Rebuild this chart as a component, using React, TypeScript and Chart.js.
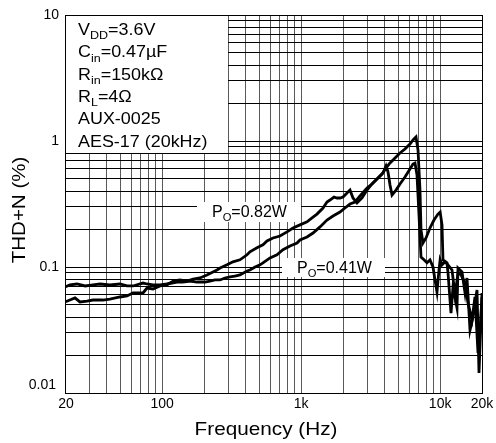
import React, { useEffect, useRef } from 'react';
import { Chart, registerables } from 'chart.js';
Chart.register(...registerables);

// P_O = 0.82 W curve
const freq082 = [20, 21.7, 23.6, 25.6, 28.8, 31.8, 37.5, 42.1, 49.7, 55.9, 61.7, 72.8, 77.8, 85.9, 96.5, 108, 120, 134, 151, 167, 187, 210, 232, 248, 261, 293, 323, 363, 408, 428, 481, 531, 568, 627, 704, 791, 874, 981, 1102, 1217, 1300, 1436, 1534, 1612, 1723, 1811, 1903, 2000, 2137, 2246, 2360, 2522, 2740, 2977, 3233, 3512, 3815, 4078, 4358, 4735, 5140, 5584, 6066, 6378, 6702, 6930, 7160, 7280, 7527, 7910, 8450, 9030, 9650, 10000, 10310, 10480, 11200, 11390, 11970, 12370, 13220, 13440, 14360, 15100, 15600, 16400, 17230, 18410, 19030, 20000];
const thd082 = [0.0528, 0.0547, 0.0568, 0.0528, 0.0537, 0.0547, 0.0547, 0.0557, 0.0578, 0.0589, 0.0622, 0.0622, 0.0681, 0.0669, 0.0707, 0.072, 0.0774, 0.0789, 0.0774, 0.0803, 0.0818, 0.0865, 0.0913, 0.0947, 0.0982, 0.104, 0.11, 0.114, 0.125, 0.132, 0.142, 0.15, 0.161, 0.17, 0.176, 0.19, 0.204, 0.216, 0.228, 0.249, 0.263, 0.294, 0.328, 0.34, 0.359, 0.353, 0.353, 0.359, 0.387, 0.408, 0.353, 0.322, 0.353, 0.408, 0.456, 0.499, 0.547, 0.61, 0.669, 0.733, 0.803, 0.864, 0.947, 1.018, 1.076, 0.848, 0.408, 0.197, 0.155, 0.17, 0.204, 0.236, 0.263, 0.273, 0.216, 0.114, 0.108, 0.0896, 0.0431, 0.0694, 0.0473, 0.0982, 0.0913, 0.0622, 0.0818, 0.0316, 0.0401, 0.0657, 0.0144, 0.0622];

// P_O = 0.41 W curve
const freq041 = [20, 21.7, 24.4, 27.9, 31.8, 35.7, 42.1, 49.7, 55.9, 61.7, 72.8, 77.8, 85.9, 96.5, 108, 128, 141, 159, 178, 203, 221, 240, 261, 283, 308, 334, 363, 408, 428, 466, 506, 531, 597, 670, 740, 831, 934, 981, 1102, 1217, 1366, 1534, 1695, 1903, 2066, 2246, 2440, 2650, 2977, 3233, 3512, 3880, 4078, 4215, 4358, 4504, 4812, 5140, 5584, 6066, 6378, 6592, 6814, 7043, 7280, 7652, 8040, 8450, 8882, 9180, 9490, 9810, 10000, 10310, 10840, 11390, 12170, 12800, 13440, 14120, 15100, 15860, 16950, 17800, 18720, 19370, 20000];
const thd041 = [0.0694, 0.072, 0.0733, 0.0707, 0.072, 0.0733, 0.072, 0.0733, 0.0707, 0.0707, 0.0746, 0.0733, 0.072, 0.072, 0.0733, 0.076, 0.076, 0.0774, 0.076, 0.076, 0.0774, 0.0789, 0.0789, 0.0818, 0.0833, 0.0848, 0.0865, 0.0929, 0.0947, 0.1, 0.104, 0.108, 0.118, 0.125, 0.137, 0.147, 0.155, 0.164, 0.173, 0.186, 0.208, 0.236, 0.254, 0.273, 0.294, 0.316, 0.328, 0.366, 0.424, 0.456, 0.499, 0.557, 0.633, 0.568, 0.447, 0.373, 0.408, 0.456, 0.518, 0.599, 0.657, 0.669, 0.537, 0.259, 0.12, 0.114, 0.108, 0.114, 0.1, 0.0789, 0.0633, 0.0947, 0.114, 0.104, 0.11, 0.104, 0.0947, 0.0599, 0.0896, 0.0865, 0.0746, 0.0518, 0.038, 0.0578, 0.0208, 0.0316, 0.0578];

const xTickValues = [20, 100, 1000, 10000, 20000];
const xTickLabels = ['20', '100', '1k', '10k', '20k'];
const yTickValues = [0.01, 0.1, 1, 10];
const yTickLabels = ['0.01', '0.1', '1', '10'];
const xTitle = 'Frequency (Hz)';
const yTitle = 'THD+N (%)';

type Seg = { t: string; sub?: boolean };
const infoLines: Seg[][] = [
  [{ t: 'V' }, { t: 'DD', sub: true }, { t: '=3.6V' }],
  [{ t: 'C' }, { t: 'in', sub: true }, { t: '=0.47\u00B5F' }],
  [{ t: 'R' }, { t: 'in', sub: true }, { t: '=150k\u03A9' }],
  [{ t: 'R' }, { t: 'L', sub: true }, { t: '=4\u03A9' }],
  [{ t: 'AUX-0025' }],
  [{ t: 'AES-17 (20kHz)' }],
];
const label082: Seg[] = [{ t: 'P' }, { t: 'O', sub: true }, { t: '=0.82W' }];
const label041: Seg[] = [{ t: 'P' }, { t: 'O', sub: true }, { t: '=0.41W' }];

const FONT = '"Liberation Sans", Arial, Helvetica, sans-serif';

function logGrid(e0: number, e1: number, lo: number, hi: number) {
  const out: number[] = [];
  for (let e = e0; e <= e1; e++) {
    for (let m = 1; m <= 9; m++) {
      const v = m * Math.pow(10, e);
      if (v >= lo * 0.999 && v <= hi * 1.001) out.push(v);
    }
  }
  return out;
}
const xGrid = logGrid(1, 4, 20, 20000);
const yGrid = logGrid(-2, 1, 0.01, 10);

function drawRich(ctx: CanvasRenderingContext2D, segs: Seg[], x: number, y: number, size: number, stretch: number) {
  ctx.save();
  ctx.translate(x, y);
  ctx.scale(stretch, 1);
  ctx.textAlign = 'left';
  ctx.textBaseline = 'alphabetic';
  ctx.fillStyle = '#000';
  let cx = 0;
  for (const s of segs) {
    const fs = s.sub ? size * 0.7 : size;
    ctx.font = `${fs}px ${FONT}`;
    ctx.fillText(s.t, cx, s.sub ? size * 0.28 : 0);
    cx += ctx.measureText(s.t).width;
  }
  ctx.restore();
}

const overlayPlugin = {
  id: 'overlay',
  beforeDatasetsDraw(chart: any) {
    const ctx: CanvasRenderingContext2D = chart.ctx;
    const a = chart.chartArea;
    ctx.save();
    ctx.fillStyle = '#fff';
    ctx.fillRect(a.left + 1, a.top + 1, 228 - a.left - 1, 153 - a.top - 1);
    ctx.fillRect(197, 202, 104, 20);
    ctx.fillRect(282, 258, 103, 19);
    ctx.restore();
    infoLines.forEach((line, i) => {
      drawRich(ctx, line, 78, 35 + i * 22.3, 16, 1.12);
    });
    drawRich(ctx, label082, 212, 217, 16, 1.0);
    drawRich(ctx, label041, 297, 273, 16, 1.0);
  },
  afterDraw(chart: any) {
    const ctx: CanvasRenderingContext2D = chart.ctx;
    const xs = chart.scales.x;
    const ys = chart.scales.y;
    ctx.save();
    ctx.fillStyle = '#000';
    ctx.font = `14px ${FONT}`;
    ctx.textAlign = 'right';
    ctx.textBaseline = 'middle';
    yTickValues.forEach((v, i) => {
      const py = ys.getPixelForValue(v) + (i === 0 ? -8 : 0);
      ctx.fillText(yTickLabels[i], i === 0 ? 56 : 59, py);
    });
    ctx.textAlign = 'center';
    ctx.textBaseline = 'top';
    xTickValues.forEach((v, i) => {
      const px = xs.getPixelForValue(v);
      ctx.fillText(xTickLabels[i], px + (i === 0 ? 1 : 0), 397);
    });
    // x title
    ctx.save();
    ctx.translate(266, 435);
    ctx.scale(1.12, 1);
    ctx.font = `18.5px ${FONT}`;
    ctx.textAlign = 'center';
    ctx.textBaseline = 'alphabetic';
    ctx.fillText(xTitle, 0, 0);
    ctx.restore();
    // y title
    ctx.save();
    ctx.translate(25, 210);
    ctx.rotate(-Math.PI / 2);
    ctx.scale(1.08, 1);
    ctx.font = `19px ${FONT}`;
    ctx.textAlign = 'center';
    ctx.textBaseline = 'alphabetic';
    ctx.fillText(yTitle, 0, 0);
    ctx.restore();
    ctx.restore();
  },
};

export default function App() {
  const ref = useRef<HTMLCanvasElement | null>(null);
  useEffect(() => {
    document.body.style.margin = '0';
    const canvas = ref.current;
    if (!canvas) return;
    const chart = new Chart(canvas, {
      type: 'line',
      data: {
        datasets: [
          {
            label: 'PO=0.82W',
            data: freq082.map((f, i) => ({ x: f, y: thd082[i] })),
            borderColor: '#000',
            borderWidth: 2.8,
            pointRadius: 0,
            tension: 0,
            fill: false,
          },
          {
            label: 'PO=0.41W',
            data: freq041.map((f, i) => ({ x: f, y: thd041[i] })),
            borderColor: '#000',
            borderWidth: 2.8,
            pointRadius: 0,
            tension: 0,
            fill: false,
          },
        ],
      },
      options: {
        animation: false,
        responsive: false,
        maintainAspectRatio: false,
        layout: { padding: { left: 65, top: 15, right: 14, bottom: 50 } },
        plugins: { legend: { display: false }, tooltip: { enabled: false }, title: { display: false } },
        scales: {
          x: {
            type: 'logarithmic',
            min: 20,
            max: 20000,
            afterBuildTicks: (s: any) => {
              s.ticks = xGrid.map((v) => ({ value: v }));
            },
            ticks: { display: false },
            grid: {
              color: (c: any) => (c.tick && c.tick.value >= 19999 ? '#000' : '#5a5a5a'),
              lineWidth: 1,
              drawTicks: false,
            },
            border: { display: true, color: '#000', width: 1 },
          },
          y: {
            type: 'logarithmic',
            min: 0.01,
            max: 10,
            afterBuildTicks: (s: any) => {
              s.ticks = yGrid.map((v) => ({ value: v }));
            },
            ticks: { display: false },
            grid: { color: '#000', lineWidth: 1, drawTicks: false },
            border: { display: true, color: '#000', width: 1 },
          },
        },
      },
      plugins: [overlayPlugin],
    } as any);
    return () => chart.destroy();
  }, []);
  return <canvas ref={ref} width={496} height={443} style={{ display: 'block' }} />;
}
